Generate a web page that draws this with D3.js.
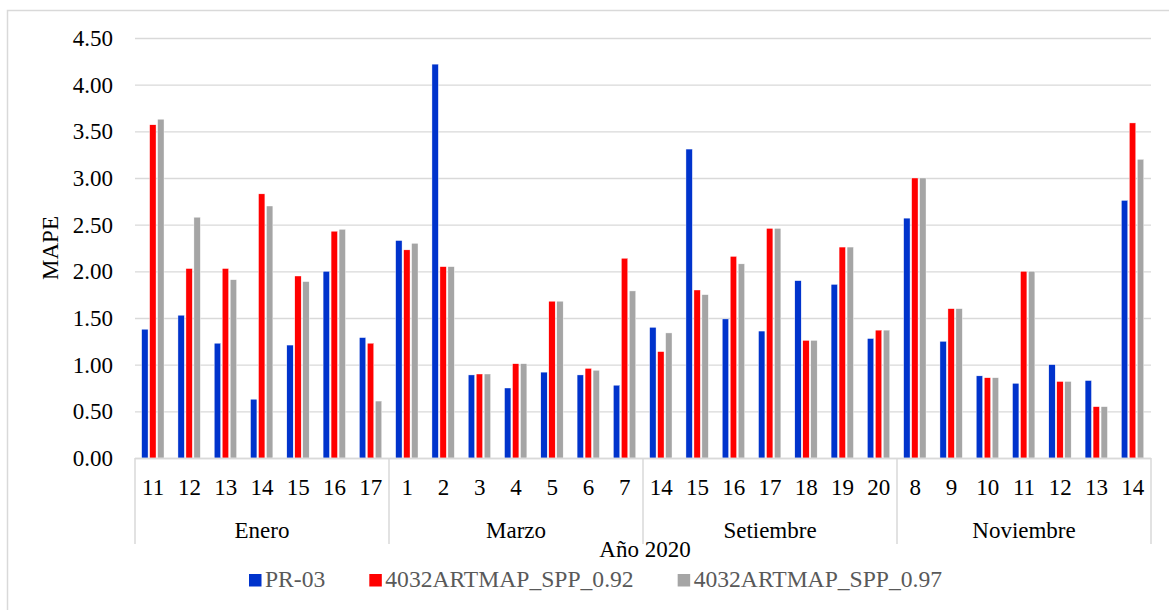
<!DOCTYPE html>
<html>
<head>
<meta charset="utf-8">
<script src="https://cdn.jsdelivr.net/npm/d3@7"></script>
<style>
  body { margin: 0; background: #fff; }
  text { font-family: "Liberation Serif", "Times New Roman", serif; }
</style>
</head>
<body>
<div id="chart"></div>
<script>
// months and the days inside each one
var months = ["Enero", "Marzo", "Setiembre", "Noviembre"];
var days = [
  ["11", "12", "13", "14", "15", "16", "17"],
  ["1", "2", "3", "4", "5", "6", "7"],
  ["14", "15", "16", "17", "18", "19", "20"],
  ["8", "9", "10", "11", "12", "13", "14"]
];
var seriesNames = ["PR-03", "4032ARTMAP_SPP_0.92", "4032ARTMAP_SPP_0.97"];
var seriesColors = ["#0033cc", "#ff0000", "#a5a5a5"];

var pr03 = [1.38, 1.53, 1.23, 0.63, 1.21, 2.00, 1.29,
            2.33, 4.22, 0.89, 0.75, 0.92, 0.89, 0.78,
            1.40, 3.31, 1.49, 1.36, 1.90, 1.86, 1.28,
            2.57, 1.25, 0.88, 0.80, 1.00, 0.83, 2.76];
var spp092 = [3.57, 2.03, 2.03, 2.83, 1.95, 2.43, 1.23,
              2.23, 2.05, 0.90, 1.01, 1.68, 0.96, 2.14,
              1.14, 1.80, 2.16, 2.46, 1.26, 2.26, 1.37,
              3.00, 1.60, 0.86, 2.00, 0.82, 0.55, 3.59];
var spp097 = [3.63, 2.58, 1.91, 2.70, 1.89, 2.45, 0.61,
              2.30, 2.05, 0.90, 1.01, 1.68, 0.94, 1.79,
              1.34, 1.75, 2.08, 2.46, 1.26, 2.26, 1.37,
              3.00, 1.60, 0.86, 2.00, 0.82, 0.55, 3.20];
var yTicks = [0, 0.5, 1, 1.5, 2, 2.5, 3, 3.5, 4, 4.5];

var w = 1169, h = 610,
    p = {"top": 38, "left": 135, "right": 18, "bot": 152};
var fs = 23;

var svg = d3.select("#chart").append("svg")
  .attr("width", w)
  .attr("height", h)

// outer chart border (only top and left show in the original)
svg.append("rect")
  .attr("x", 7.5).attr("y", 10.5)
  .attr("width", w + 10).attr("height", h + 10)
  .style("fill", "none")
  .style("stroke", "#d9d9d9")
  .style("stroke-width", 1.5)

// flat list of categories, one per day
var cats = [];
days.forEach(function(list, m){
  list.forEach(function(d, i){
    var k = cats.length;
    cats.push({"key": m + "-" + i, "day": d, "month": m, "vals": [pr03[k], spp092[k], spp097[k]]});
  })
})

var xScale = d3.scaleBand()
  .domain(cats.map(a => a.key))
  .range([p.left, w - p.right])

var yScale = d3.scaleLinear()
  .domain([0, 4.5])
  .range([h - p.bot, p.top])

var groupW = xScale.bandwidth() * 0.66;
var inner = d3.scaleBand()
  .domain([0, 1, 2])
  .range([0, groupW])

// gridlines + y labels
var yAxis = d3.axisLeft(yScale)
  .tickValues(yTicks)
  .tickSize(-(w - p.right - p.left))
  .tickPadding(22)
  .tickFormat(d3.format(".2f"));

var gy = svg.append("g")
  .attr("transform", "translate(" + p.left + ",0)")
  .call(yAxis)
gy.select(".domain").remove();
gy.selectAll("line").style("stroke", "#d9d9d9").style("stroke-width", 1.3);
gy.selectAll("text")
  .style("font-size", fs + "px")
  .style("fill", "#000")
  .style("font-family", "Liberation Serif, serif")
  .attr("dy", "0.33em")

// bars
var cat = svg.selectAll(".cat")
  .data(cats)
  .enter()
    .append("g")
      .attr("class", "cat")
      .attr("transform", function(d){
        return "translate(" + (xScale(d.key) + (xScale.bandwidth() - groupW) / 2) + ",0)"
      })

cat.selectAll("rect")
  .data(function(d){ return d.vals })
  .enter()
    .append("rect")
      .attr("x", function(d, i){ return inner(i) + 0.5 })
      .attr("y", function(d){ return yScale(d) })
      .attr("width", inner.bandwidth() - 1.6)
      .attr("height", function(d){ return yScale(0) - yScale(d) })
      .style("fill", function(d, i){ return seriesColors[i] })
      .style("stroke", "#fff")
      .style("stroke-width", 0.4)

// category axis line
svg.append("line")
  .attr("x1", p.left).attr("x2", w - p.right)
  .attr("y1", yScale(0) + 0.5).attr("y2", yScale(0) + 0.5)
  .style("stroke", "#d9d9d9")
  .style("stroke-width", 1.5)

// separators between months
var bounds = [0];
days.forEach(function(list){ bounds.push(bounds[bounds.length - 1] + list.length) });
svg.selectAll(".sep")
  .data(bounds)
  .enter()
    .append("line")
      .attr("x1", function(d){ return d < cats.length ? xScale(cats[d].key) : w - p.right })
      .attr("x2", function(d){ return d < cats.length ? xScale(cats[d].key) : w - p.right })
      .attr("y1", yScale(0))
      .attr("y2", 544)
      .style("stroke", "#d9d9d9")
      .style("stroke-width", 1.5)

// day labels
svg.selectAll(".day")
  .data(cats)
  .enter()
    .append("text")
      .attr("x", function(d){ return xScale(d.key) + xScale.bandwidth() / 2 })
      .attr("y", 495)
      .style("text-anchor", "middle")
      .style("font-size", fs + "px")
      .text(function(d){ return d.day })

// month labels
svg.selectAll(".month")
  .data(months)
  .enter()
    .append("text")
      .attr("x", function(d, i){
        var a = xScale(cats[bounds[i]].key);
        var b = bounds[i + 1] < cats.length ? xScale(cats[bounds[i + 1]].key) : w - p.right;
        return (a + b) / 2
      })
      .attr("y", 537.5)
      .style("text-anchor", "middle")
      .style("font-size", fs + "px")
      .text(function(d){ return d })

// axis titles
svg.append("text")
  .attr("x", 645)
  .attr("y", 557)
  .style("text-anchor", "middle")
  .style("font-size", fs + "px")
  .text("Año 2020")

svg.append("text")
  .attr("transform", "translate(58," + ((p.top + h - p.bot) / 2) + ") rotate(-90)")
  .style("text-anchor", "middle")
  .style("font-size", fs + "px")
  .text("MAPE")

// legend
var leg = svg.append("g")
var lx = 249;
seriesNames.forEach(function(name, i){
  leg.append("rect")
    .attr("x", lx).attr("y", 574)
    .attr("width", 12.5).attr("height", 12.5)
    .style("fill", seriesColors[i])
  var t = leg.append("text")
    .attr("x", lx + 16)
    .attr("y", 586.5)
    .style("font-size", "23.6px")
    .style("fill", "#595959")
    .text(name)
  lx = lx + 16 + t.node().getComputedTextLength() + 44;
})
</script>
</body>
</html>
